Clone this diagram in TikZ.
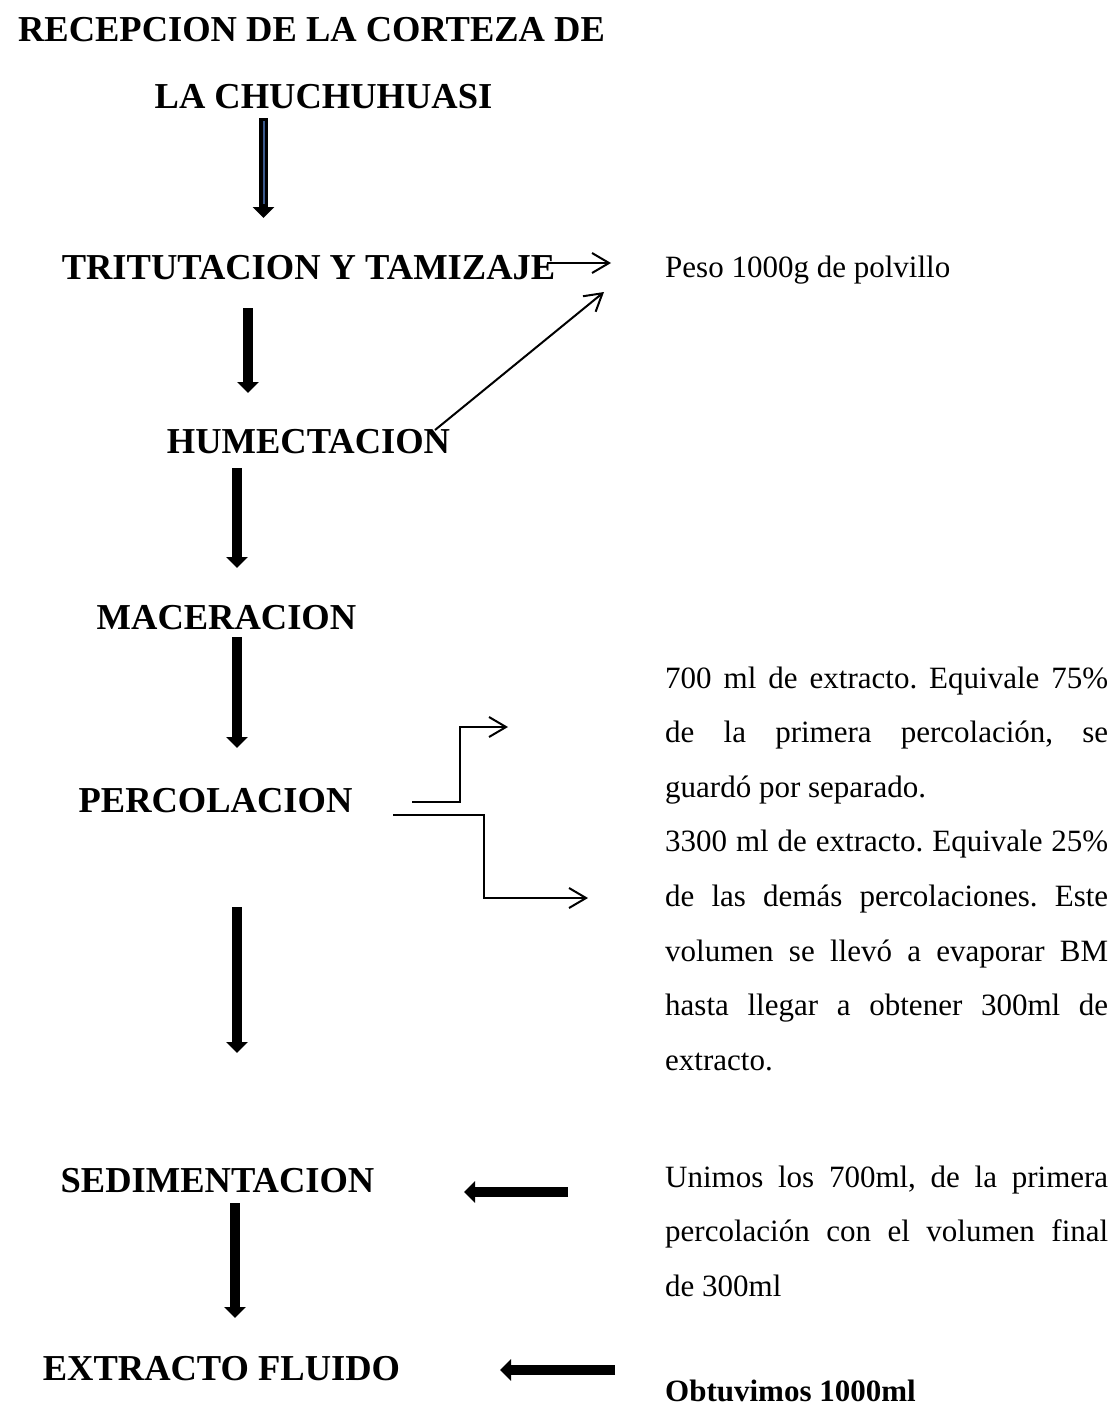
\documentclass[tikz,border=0pt]{standalone}
\usepackage{fontspec}
\setmainfont{Liberation Serif}
\usetikzlibrary{arrows.meta}
\definecolor{arrowblue}{RGB}{60,90,140}
\frenchspacing
\begin{document}
\begin{tikzpicture}[x=1pt,y=-1pt,
  head/.style={font=\fontsize{36.5}{40}\selectfont\bfseries, inner sep=0pt, anchor=base},
  body/.style={font=\fontsize{31}{35}\selectfont, inner sep=0pt, anchor=base west},
  bigarrow/.style={line width=9.5pt, -{Triangle[length=11pt,width=21pt]}},
  thinarrow/.style={line width=2pt, -{Straight Barb[length=17pt,width=20pt]}}
]
\useasboundingbox (0,0) rectangle (1114,1408);

% process steps
\node[head] (recep1) at (311.5,41) {RECEPCION DE LA CORTEZA DE};
\node[head] (recep2) at (323.5,108) {LA CHUCHUHUASI};
\node[head] (trit) at (308.5,279) {TRITUTACION Y TAMIZAJE};
\node[head] (hum) at (308.5,453) {HUMECTACION};
\node[head] (mac) at (226.5,629) {MACERACION};
\node[head] (perc) at (215.5,812) {PERCOLACION};
\node[head] (sed) at (217.5,1192) {SEDIMENTACION};
\node[head] (ext) at (221.5,1380) {EXTRACTO FLUIDO};

% notes
\node[body] (peso) at (665,277) {Peso 1000g de polvillo};
\node[body] (p1) at (665,688) {\makebox[443pt][s]{700 ml de extracto. Equivale 75\%}};
\node[body] (p2) at (665,742.6) {\makebox[443pt][s]{de la primera percolación, se}};
\node[body] (p3) at (665,797.2) {guardó por separado.};
\node[body] (q1) at (665,851.8) {\makebox[443pt][s]{3300 ml de extracto. Equivale 25\%}};
\node[body] (q2) at (665,906.4) {\makebox[443pt][s]{de las demás percolaciones. Este}};
\node[body] (q3) at (665,961) {\makebox[443pt][s]{volumen se llevó a evaporar BM}};
\node[body] (q4) at (665,1015.6) {\makebox[443pt][s]{hasta llegar a obtener 300ml de}};
\node[body] (q5) at (665,1070.2) {extracto.};
\node[body] (u1) at (665,1187) {\makebox[443pt][s]{Unimos los 700ml, de la primera}};
\node[body] (u2) at (665,1241.6) {\makebox[443pt][s]{percolación con el volumen final}};
\node[body] (u3) at (665,1296.2) {de 300ml};
\node[body] (ob) at (665,1401) {\bfseries Obtuvimos 1000ml};

% arrow end points
\coordinate (a1s) at (263.5,118);
\coordinate (a1e) at (263.5,218);
\coordinate (a1bs) at (263.5,121);
\coordinate (a1be) at (263.5,204);
\coordinate (a2s) at (248,308);
\coordinate (a2e) at (248,393);
\coordinate (a3s) at (237,468);
\coordinate (a3e) at (237,568);
\coordinate (a4s) at (237,637);
\coordinate (a4e) at (237,748);
\coordinate (a5s) at (237,907);
\coordinate (a5e) at (237,1053);
\coordinate (a6s) at (235,1203);
\coordinate (a6e) at (235,1318);
\coordinate (l1s) at (568,1192);
\coordinate (l1e) at (464,1192);
\coordinate (l2s) at (615,1370);
\coordinate (l2e) at (500,1370);
\coordinate (t1s) at (547,263);
\coordinate (t1e) at (611,263);
\coordinate (t2s) at (435,430);
\coordinate (t2e) at (604,292);
\coordinate (c1s) at (412,801.5);
\coordinate (c1e) at (508,727);
\coordinate (c2s) at (393,815);
\coordinate (c2e) at (588,898);

% big arrows
\draw[bigarrow] (a1s) -- (a1e);
\draw[arrowblue, line width=2pt] (a1bs) -- (a1be);
\draw[bigarrow] (a2s) -- (a2e);
\draw[bigarrow] (a3s) -- (a3e);
\draw[bigarrow] (a4s) -- (a4e);
\draw[bigarrow] (a5s) -- (a5e);
\draw[bigarrow] (a6s) -- (a6e);
\draw[bigarrow] (l1s) -- (l1e);
\draw[bigarrow] (l2s) -- (l2e);

% thin arrows
\draw[thinarrow] (t1s) -- (t1e);
\draw[thinarrow] (t2s) -- (t2e);
\draw[thinarrow] (c1s) -- (460,801.5) |- (c1e);
\draw[thinarrow] (c2s) -- (484,815) |- (c2e);
\end{tikzpicture}
\end{document}
